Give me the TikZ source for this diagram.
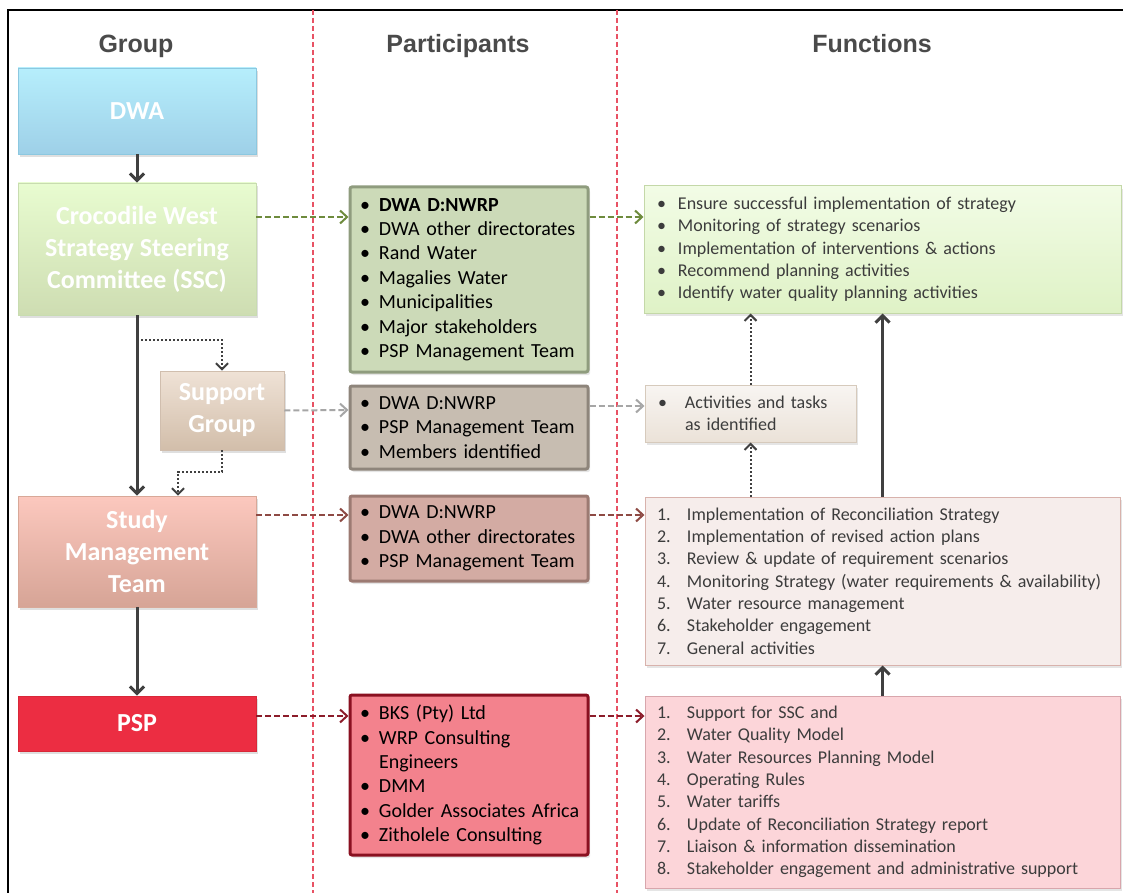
\documentclass[tikz,border=0pt]{standalone}
\usepackage{fontspec}
\setmainfont{Carlito}
\newfontfamily\headfont{Liberation Sans}
\usetikzlibrary{arrows.meta}
\usetikzlibrary{shadows}

\definecolor{hdgray}{HTML}{4A4A4A}
\definecolor{arrgray}{HTML}{404040}
\definecolor{sepred}{HTML}{E85264}
\definecolor{txtgray}{HTML}{3C3C3C}
% group boxes
\definecolor{dwaline}{HTML}{8CC8E0}
\definecolor{dwatop}{HTML}{B6EEFC}
\definecolor{dwabot}{HTML}{9ED0E8}
\definecolor{sscline}{HTML}{C8DCB0}
\definecolor{ssctop}{HTML}{E8FCD0}
\definecolor{sscbot}{HTML}{CEDDB2}
\definecolor{sgline}{HTML}{D0BEAE}
\definecolor{sgtop}{HTML}{EFE2D6}
\definecolor{sgbot}{HTML}{D2BEAA}
\definecolor{smtline}{HTML}{D8A898}
\definecolor{smttop}{HTML}{FCC8BE}
\definecolor{smtbot}{HTML}{D6A496}
\definecolor{pspline}{HTML}{D82838}
\definecolor{pspfill}{HTML}{EC2D42}
% participant boxes
\definecolor{ponel}{HTML}{8F9C7E}
\definecolor{ponef}{HTML}{CCDAB8}
\definecolor{ptwol}{HTML}{8E857B}
\definecolor{ptwof}{HTML}{C7BDB1}
\definecolor{pthreel}{HTML}{9C7A72}
\definecolor{pthreef}{HTML}{D3ABA3}
\definecolor{pfourl}{HTML}{8A1020}
\definecolor{pfourf}{HTML}{F3828D}
% function boxes
\definecolor{fonel}{HTML}{C4D8A8}
\definecolor{fonetop}{HTML}{F2FCE6}
\definecolor{fonebot}{HTML}{DFF2C6}
\definecolor{ftwol}{HTML}{D6CABC}
\definecolor{ftwotop}{HTML}{F8F5F2}
\definecolor{ftwobot}{HTML}{EBE2D8}
\definecolor{fthreel}{HTML}{D8B2AC}
\definecolor{fthreef}{HTML}{F6EDEB}
\definecolor{ffourl}{HTML}{D8A6AC}
\definecolor{ffourf}{HTML}{FCD5D9}
% links
\definecolor{lkgreen}{HTML}{6E8B3D}
\definecolor{lkgray}{HTML}{A6A6A6}
\definecolor{lkbrown}{HTML}{8E4A44}
\definecolor{lkred}{HTML}{8C1C2A}

\newcommand{\bul}{\hspace*{3pt}\makebox[19pt][l]{\textbullet}}
\newcommand{\fbul}{\makebox[21pt][l]{\textbullet}}
\newcommand{\fnum}[1]{\makebox[30pt][l]{#1.}}

\begin{document}
\begin{tikzpicture}
        [x=1pt,y=-1pt,
          grp/.style={rectangle,draw=#1,line width=0.8pt,minimum width=238pt,align=center,
            text=white,font=\bfseries\fontsize{26}{32}\selectfont,
            drop shadow={shadow xshift=2pt,shadow yshift=-3pt,opacity=0.25}},
          plist/.style={rectangle,rounded corners=2pt,draw=#1,line width=3pt,
            minimum width=238pt,text width=224pt,inner xsep=7pt,align=left,
            font=\fontsize{20}{24.4}\selectfont,
            drop shadow={shadow xshift=2pt,shadow yshift=-3pt,opacity=0.2}},
          flist/.style={rectangle,draw=#1,line width=1pt,inner xsep=13pt,align=left,
            text=txtgray,font=\fontsize{18}{22.3}\selectfont,
            drop shadow={shadow xshift=2pt,shadow yshift=-3pt,opacity=0.2}},
          head/.style={anchor=base,text=hdgray,font=\headfont\bfseries\fontsize{25}{30}\selectfont},
          flow/.style={-{Straight Barb[length=7pt,width=14pt]},line width=3pt,draw=arrgray},
          sub/.style={-{Straight Barb[length=6pt,width=12pt]},line width=2pt,
            dash pattern=on 2pt off 2pt,draw=arrgray},
          link/.style={-{Straight Barb[length=7pt,width=13pt]},line width=2pt,
            dash pattern=on 6pt off 3pt,draw=#1}]
        \useasboundingbox (0,0) rectangle (1123,893);
        \fill[white] (0,0) rectangle (1123,893);

        % frame and column separators
        \draw[line width=2.5pt] (1123,10) -- (8,10) -- (8,893);
        \draw[sepred,line width=1.3pt,dash pattern=on 5pt off 3pt] (313,10) -- (313,893);
        \draw[sepred,line width=1.3pt,dash pattern=on 5pt off 3pt] (617,10) -- (617,893);

        \node[head] (hgrp) at (136,53) {Group};
        \node[head] (hpart) at (458,53) {Participants};
        \node[head] (hfunc) at (872,53) {Functions};

        % groups
        \node[grp=dwaline,minimum height=86pt,top color=dwatop,bottom color=dwabot] (dwa) at (137,111) {DWA};
        \node[grp=sscline,minimum height=132pt,top color=ssctop,bottom color=sscbot] (ssc) at (137,249) {Crocodile West\\Strategy Steering\\Committee (SSC)};
        \node[grp=sgline,minimum width=124pt,minimum height=79pt,top color=sgtop,bottom color=sgbot] (sg) at (222,410.5) {Support\\Group};
        \node[grp=smtline,minimum height=111pt,top color=smttop,bottom color=smtbot] (smt) at (137,551.5) {Study\\Management\\Team};
        \node[grp=pspline,minimum height=55pt,fill=pspfill] (psp) at (137,723.5) {PSP};

        % participants
        \node[plist=ponel,minimum height=185pt,fill=ponef] (p1) at (469,279.5)
          {\bul\textbf{DWA D:NWRP}\\\bul DWA other directorates\\\bul Rand Water\\\bul Magalies Water\\\bul Municipalities\\\bul Major stakeholders\\\bul PSP Management Team};
        \node[plist=ptwol,minimum height=83pt,fill=ptwof] (p2) at (469,427.5)
          {\bul DWA D:NWRP\\\bul PSP Management Team\\\bul Members identified};
        \node[plist=pthreel,minimum height=85pt,fill=pthreef] (p3) at (469,538.5)
          {\bul DWA D:NWRP\\\bul DWA other directorates\\\bul PSP Management Team};
        \node[plist=pfourl,minimum height=160pt,fill=pfourf] (p4) at (469,775)
          {\bul BKS (Pty) Ltd\\\bul WRP Consulting\\\hspace*{22pt}Engineers\\\bul DMM\\\bul Golder Associates Africa\\\bul Zitholele Consulting};

        % functions
        \node[flist=fonel,minimum width=477pt,text width=451pt,minimum height=127pt,top color=fonetop,bottom color=fonebot] (f1) at (882.5,249.5)
          {\fbul Ensure successful implementation of strategy\\\fbul Monitoring of strategy scenarios\\\fbul Implementation of interventions \& actions\\\fbul Recommend planning activities\\\fbul Identify water quality planning activities};
        \node[flist=ftwol,minimum width=211pt,text width=185pt,minimum height=57pt,top color=ftwotop,bottom color=ftwobot] (f2) at (750.5,413.5)
          {\makebox[27pt][l]{\textbullet}Activities and tasks\\\makebox[27pt]{}as identified};
        \node[flist=fthreel,minimum width=475pt,text width=451pt,inner xsep=12pt,minimum height=168pt,fill=fthreef] (f3) at (882.5,581)
          {\fnum{1}Implementation of Reconciliation Strategy\\\fnum{2}Implementation of revised action plans\\\fnum{3}Review \& update of requirement scenarios\\\fnum{4}Monitoring Strategy (water requirements \& availability)\\\fnum{5}Water resource management\\\fnum{6}Stakeholder engagement\\\fnum{7}General activities};
        \node[flist=ffourl,minimum width=475pt,text width=451pt,inner xsep=12pt,minimum height=192pt,fill=ffourf] (f4) at (882.5,792)
          {\fnum{1}Support for SSC and\\\fnum{2}Water Quality Model\\\fnum{3}Water Resources Planning Model\\\fnum{4}Operating Rules\\\fnum{5}Water tariffs\\\fnum{6}Update of Reconciliation Strategy report\\\fnum{7}Liaison \& information dissemination\\\fnum{8}Stakeholder engagement and administrative support};

        % hierarchy
        \draw[flow] (dwa) -- (ssc);
        \draw[flow] (ssc) -- (smt);
        \draw[flow] (smt) -- (psp);
        \coordinate (br1) at (137,340);
        \coordinate (br2) at (178,472);
        \draw[sub] (br1) -| (sg);
        \draw[sub] (sg) |- (br2) -- (br2 |- smt.north);

        % group -> participants -> functions
        \draw[link=lkgreen] ([yshift=32pt]ssc.east) -- ([yshift=62.5pt]p1.west);
        \draw[link=lkgreen] ([yshift=62.5pt]p1.east) -- ([yshift=32.5pt]f1.west);
        \draw[link=lkgray] (sg.east) -- ([yshift=17.5pt]p2.west);
        \draw[link=lkgray] ([yshift=21.5pt]p2.east) -- ([yshift=7.5pt]f2.west);
        \draw[link=lkbrown] ([yshift=36.5pt]smt.east) -- ([yshift=23.5pt]p3.west);
        \draw[link=lkbrown] ([yshift=23.5pt]p3.east) -- ([yshift=66pt]f3.west);
        \draw[link=lkred] ([yshift=7.5pt]psp.east) -- ([yshift=59pt]p4.west);
        \draw[link=lkred] ([yshift=59pt]p4.east) -- ([yshift=76pt]f4.west);

        % functions feed upward
        \draw[sub] (f3.north -| f2) -- (f2);
        \draw[sub] (f2) -- (f2 |- f1.south);
        \draw[flow] (f3) -- (f1);
        \draw[flow] (f4) -- (f3);
      \end{tikzpicture}
\end{document}
